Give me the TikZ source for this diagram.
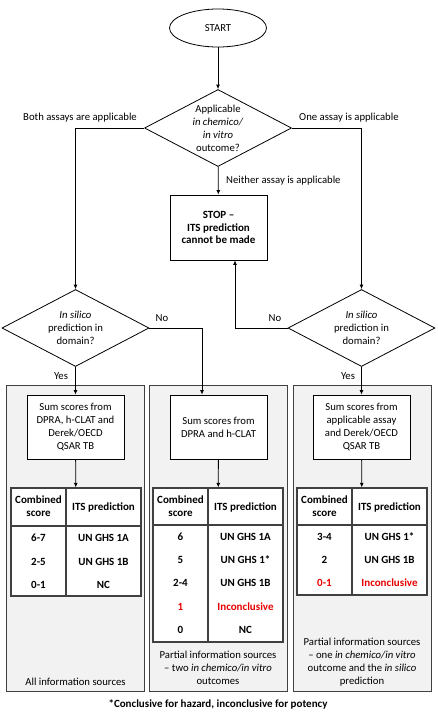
\documentclass[tikz,border=0pt]{standalone}
\usepackage{fontspec}
\setmainfont{Carlito}
\usepackage{tikz}
\usetikzlibrary{shapes.geometric,arrows.meta}
\definecolor{incred}{RGB}{232,0,0}
\definecolor{panelgray}{RGB}{242,242,242}
\definecolor{edgegray}{RGB}{64,64,64}
\tikzset{
  font={\fontsize{10.7pt}{13pt}\selectfont}}

\begin{document}
\begin{tikzpicture}[x=1pt,y=1pt]
\tikzstyle{every node}+=[inner sep=0pt]
\tikzstyle{arr}=[-{Latex[length=4.5pt,width=4pt]}, line width=0.8pt]
\tikzstyle{dec}=[draw, line width=0.8pt, diamond, aspect=1.9, minimum width=147pt, minimum height=77pt, align=center]
\tikzstyle{sumbox}=[draw, line width=0.8pt, fill=white, minimum width=97pt, minimum height=64pt, align=center]
\tikzstyle{panel}=[draw=edgegray, line width=1pt, fill=panelgray, minimum width=138pt, minimum height=306pt]
\tikzstyle{tab}=[draw=edgegray, line width=1.2pt, fill=white, minimum width=130pt]
\tikzstyle{cell}=[font={\fontsize{11pt}{13pt}\selectfont\bfseries}, align=center]
\useasboundingbox (0,0) rectangle (437,-713);
% panels
\node [panel] (pl) at (75.5,-538) {};
\node [panel] (pm) at (218,-538) {};
\node [panel] (pr) at (362,-538) {};
% top part
\node [draw, line width=0.8pt, ellipse, minimum width=97pt, minimum height=38pt] (start) at (218,-28) {START};
\node [dec] (d1) at (218,-128) {Applicable\\\textit{in chemico/}\\\textit{in vitro}\\outcome?};
\node [draw, line width=0.8pt, minimum width=97pt, minimum height=65pt, align=center, font={\fontsize{11pt}{12.5pt}\selectfont\bfseries}] (stop) at (218.5,-227.5) {STOP --\\ITS prediction\\cannot be made};
\node [dec] (d2) at (75.5,-328) {\textit{In silico}\\prediction in\\domain?};
\node [dec] (d3) at (361.5,-328) {\textit{In silico}\\prediction in\\domain?};
\draw [arr] (start) -- (d1);
\draw [arr] (d1) -- (stop);
\draw (226,-181) node [anchor=west] {Neither assay is applicable};
\draw [arr] (d1.west) -| (d2.north);
\draw (137,-118) node [anchor=east] {Both assays are applicable};
\draw [arr] (d1.east) -| (d3.north);
\draw (299,-118) node [anchor=west] {One assay is applicable};
% sum boxes
\node [sumbox] (sl) at (75.5,-427) {Sum scores from\\DPRA, h-CLAT and\\Derek/OECD\\QSAR TB};
\node [sumbox] (sm) at (218.5,-427) {Sum scores from\\DPRA and h-CLAT};
\node [sumbox] (sr) at (361.5,-427) {Sum scores from\\applicable assay\\and Derek/OECD\\QSAR TB};
\draw [arr] (d2.south) -- (sl.north);
\draw (61,-376) node {Yes};
\draw [arr] (d3.south) -- (sr.north);
\draw (348,-376) node {Yes};
\draw [arr] (d2.east) -| ([xshift=-16.5pt]sm.north);
\draw (162,-318) node {No};
\draw [arr] (d3.west) -| ([xshift=16.5pt]stop.south);
\draw (275,-318) node {No};
% tables
\node [tab, minimum height=108pt] (tl) at (76,-542) {};
\draw [edgegray, line width=1.2pt] (11,-526) -- (141,-526);
\draw [edgegray, line width=1.2pt] (66,-488) -- (66,-596);
\node [tab, minimum height=154pt] (tm) at (218,-565) {};
\draw [edgegray, line width=1.2pt] (153,-525) -- (283,-525);
\draw [edgegray, line width=1.2pt] (208,-488) -- (208,-642);
\node [tab, minimum height=107pt] (tr) at (362,-541.5) {};
\draw [edgegray, line width=1.2pt] (297,-525) -- (427,-525);
\draw [edgegray, line width=1.2pt] (352,-488) -- (352,-595);
\draw [arr] (sl) -- (tl);
\draw [arr] (sm) -- (tm);
\draw [arr] (sr) -- (tr);
% left table
\node [cell] (tl00) at (38.5,-506.5) {Combined\\score};
\node [cell] (tl01) at (103.5,-507) {ITS prediction};
\node [cell] (tl10) at (38.5,-538) {6-7};
\node [cell] (tl11) at (103.5,-538) {UN GHS 1A};
\node [cell] (tl20) at (38.5,-562) {2-5};
\node [cell] (tl21) at (103.5,-562) {UN GHS 1B};
\node [cell] (tl30) at (38.5,-585) {0-1};
\node [cell] (tl31) at (103.5,-585) {NC};
% middle table
\node [cell] (tm00) at (180.5,-506) {Combined\\score};
\node [cell] (tm01) at (245.5,-507) {ITS prediction};
\node [cell] (tm10) at (180.5,-537) {6};
\node [cell] (tm11) at (245.5,-537) {UN GHS 1A};
\node [cell] (tm20) at (180.5,-560) {5};
\node [cell] (tm21) at (245.5,-560) {UN GHS 1*};
\node [cell] (tm30) at (180.5,-583) {2-4};
\node [cell] (tm31) at (245.5,-583) {UN GHS 1B};
\node [cell, text=incred] (tm40) at (180.5,-607) {1};
\node [cell, text=incred] (tm41) at (245.5,-607) {Inconclusive};
\node [cell] (tm50) at (180.5,-630) {0};
\node [cell] (tm51) at (245.5,-630) {NC};
% right table
\node [cell] (tr00) at (324.5,-506) {Combined\\score};
\node [cell] (tr01) at (389.5,-507) {ITS prediction};
\node [cell] (tr10) at (324.5,-537) {3-4};
\node [cell] (tr11) at (389.5,-537) {UN GHS 1*};
\node [cell] (tr20) at (324.5,-560) {2};
\node [cell] (tr21) at (389.5,-560) {UN GHS 1B};
\node [cell, text=incred] (tr30) at (324.5,-583) {0-1};
\node [cell, text=incred] (tr31) at (389.5,-583) {Inconclusive};
% panel labels
\node [align=center] (ll) at (75.5,-682) {All information sources};
\node [align=center] (lm) at (218,-668) {Partial information sources\\-- two \textit{in chemico/in vitro}\\outcomes};
\node [align=center] (lr) at (362,-662.5) {Partial information sources\\-- one \textit{in chemico/in vitro}\\outcome and the \textit{in silico}\\prediction};
\node [font={\fontsize{11pt}{13pt}\selectfont\bfseries}] (note) at (218,-704) {*Conclusive for hazard, inconclusive for potency};
\end{tikzpicture}
\end{document}
